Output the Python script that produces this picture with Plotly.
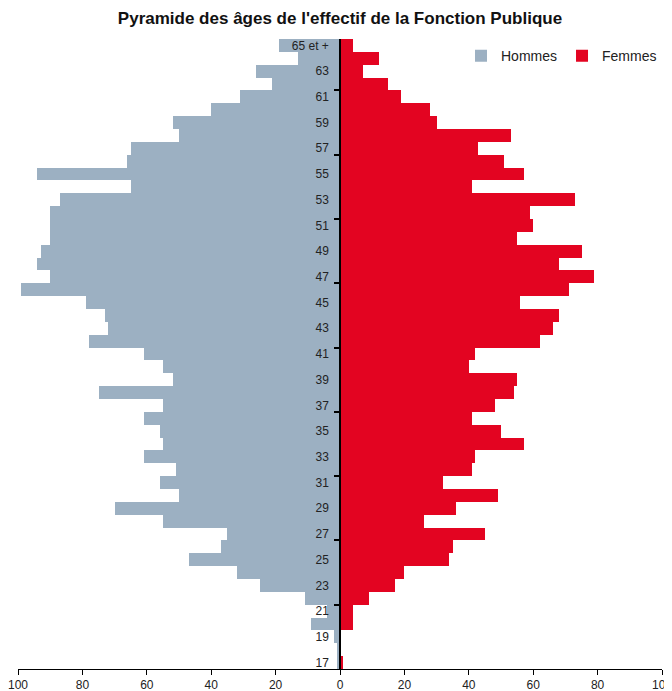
import plotly.graph_objects as go

ages = [str(a) for a in range(17, 65)] + ["65 et +"]

# counts per age, from 17 up to "65 et +"
hommes = [1, 1, 2, 9, 4, 11, 25, 32, 47, 37,
          35, 55, 70, 50, 56, 51, 61, 55, 56, 61,
          55, 75, 52, 55, 61, 78, 72, 73, 79, 99,
          90, 94, 93, 90, 90, 90, 87, 65, 94, 66,
          65, 50, 52, 40, 31, 21, 26, 13, 19]
femmes = [1, 0, 0, 4, 4, 9, 17, 20, 34, 35,
          45, 26, 36, 49, 32, 41, 42, 57, 50, 41,
          48, 54, 55, 40, 42, 62, 66, 68, 56, 71,
          79, 68, 75, 55, 60, 59, 73, 41, 57, 51,
          43, 53, 30, 28, 19, 15, 7, 12, 4]

pos = list(range(len(ages)))
label_pos = pos[::2]
label_txt = [ages[i] for i in label_pos]
minor_pos = [p + 0.5 for p in range(4, 45, 5)]

xticks = list(range(-100, 101, 20))

fig = go.Figure()
fig.add_trace(go.Bar(y=pos, x=[-v for v in hommes], orientation="h", name="Hommes",
                     marker=dict(color="#9cb0c2", line=dict(width=0)),
                     customdata=hommes, hovertemplate="%{customdata}<extra>Hommes</extra>"))
fig.add_trace(go.Bar(y=pos, x=femmes, orientation="h", name="Femmes",
                     marker=dict(color="#e30421", line=dict(width=0)),
                     hovertemplate="%{x}<extra>Femmes</extra>"))

# the page body adds an 8px offset, so the figure is a bit smaller than the window
fig.update_layout(
    width=664, height=683,
    barmode="relative", bargap=0,
    plot_bgcolor="white", paper_bgcolor="white",
    font=dict(family="Helvetica, Liberation Sans, Arial", size=12, color="#222"),
    title=dict(text="<b>Pyramide des âges de l'effectif de la Fonction Publique</b>",
               x=(340 - 8) / 664, xanchor="center", y=1 - 10 / 683, yanchor="middle",
               yref="container", font=dict(size=17, color="#111")),
    margin=dict(l=10, r=10, t=31, b=22),
    legend=dict(orientation="h", x=1.0, xanchor="right", y=0.998, yanchor="top",
                font=dict(size=14), itemwidth=30, bgcolor="rgba(0,0,0,0)"),
    showlegend=True,
)
fig.update_xaxes(range=[-100, 100], tickvals=xticks, ticktext=[str(abs(t)) for t in xticks],
                 showgrid=False, zeroline=False, showline=True, linecolor="black", linewidth=1,
                 ticks="outside", ticklen=5, tickcolor="black", automargin=False,
                 ticklabeloverflow="allow")
fig.update_yaxes(range=[-0.5, 48.5], tickmode="array", tickvals=label_pos, ticktext=label_txt,
                 anchor="free", position=0.5, showgrid=False, zeroline=False,
                 showline=True, linecolor="black", linewidth=1.5, ticks="", ticklabelstandoff=8,
                 minor=dict(tickmode="array", tickvals=minor_pos, ticks="outside", ticklen=5,
                            tickwidth=2, tickcolor="black", showgrid=False),
                 automargin=False)

fig.write_html("out.html")
